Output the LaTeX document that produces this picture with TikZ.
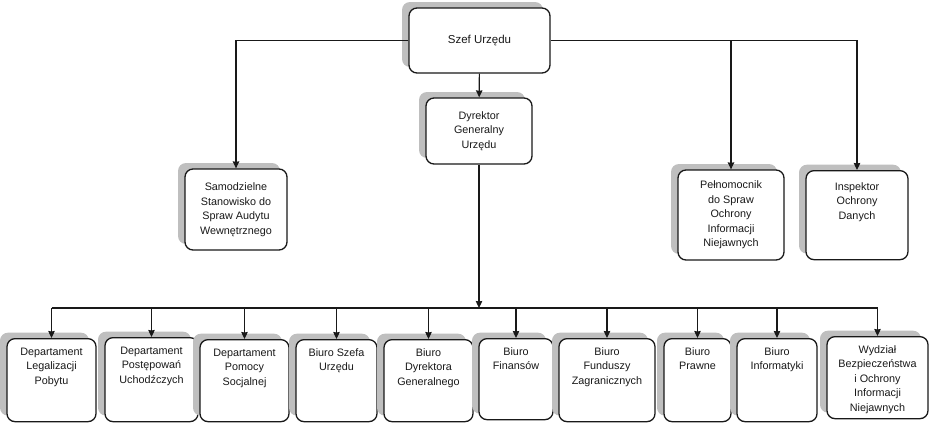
\documentclass[tikz,border=0pt]{standalone}
\usepackage{fontspec}
\setmainfont{Liberation Sans}
\usetikzlibrary{arrows, arrows.meta, positioning, shadows}

\newcommand{\boxtext}[3]{\parbox[t][#2][t]{#1}{\centering #3}}

\begin{document}
\begin{tikzpicture}[
    x=1pt, y=-1pt,
    unit/.style={rectangle, draw=black!90, line width=1.3pt, rounded corners=8pt, fill=white, text=black!90, general shadow={fill=gray!50, shadow xshift=-7pt, shadow yshift=6pt}, align=center, font=\fontsize{10.8}{14.5}\selectfont},
    topunit/.style={unit, inner xsep=0pt, inner ysep=9pt, anchor=north},
    arrow/.style={line width=1.1pt, draw=black!90, -{Stealth[length=7pt, width=6.5pt, inset=0.5pt]}}
]
\useasboundingbox (0,0) rectangle (930,423);

% Head of office
\node[unit, minimum width=141pt, minimum height=65pt, font=\fontsize{11.5}{14}\selectfont] (szef) at (479.5,40.5) {Szef Urzędu};

% Director general
\node[unit, minimum width=106pt, minimum height=66pt] (dyrektor) at (479,131) {Dyrektor\\Generalny\\Urzędu};

% Second level
\node[unit, minimum width=102pt, minimum height=81pt] (audyt) at (236,209.5) {Samodzielne\\Stanowisko do\\Spraw Audytu\\Wewnętrznego};
\node[unit, minimum width=106pt, minimum height=90pt] (pelnomocnik) at (731,215) {Pełnomocnik\\do Spraw\\Ochrony\\Informacji\\Niejawnych};
\node[topunit, inner ysep=12pt] (inspektor) at (857,170) {\boxtext{102pt}{65pt}{Inspektor\\Ochrony\\Danych}};

% Departments and offices
\node[topunit] (legalizacja) at (51.5,338) {\boxtext{89pt}{65pt}{Departament\\Legalizacji\\Pobytu}};
\node[topunit] (uchodzcy) at (151.5,337) {\boxtext{93pt}{66pt}{Departament\\Postępowań\\Uchodźczych}};
\node[topunit] (pomoc) at (244.5,339) {\boxtext{89pt}{64pt}{Departament\\Pomocy\\Socjalnej}};
\node[topunit] (biuro_szefa) at (336.5,339) {\boxtext{81pt}{64pt}{Biuro Szefa\\Urzędu}};
\node[topunit] (biuro_dg) at (428.5,339) {\boxtext{89pt}{64pt}{Biuro\\Dyrektora\\Generalnego}};
\node[topunit] (finanse) at (516,338) {\boxtext{74pt}{63pt}{Biuro\\Finansów}};
\node[topunit] (fundusze) at (607,338) {\boxtext{96pt}{65pt}{Biuro\\Funduszy\\Zagranicznych}};
\node[topunit] (prawne) at (697.5,338) {\boxtext{67pt}{65pt}{Biuro\\Prawne}};
\node[topunit] (informatyka) at (777,338) {\boxtext{80pt}{65pt}{Biuro\\Informatyki}};
\node[topunit] (bezpieczenstwo) at (877.5,336) {\boxtext{101pt}{64pt}{Wydział\\Bezpieczeństwa\\i Ochrony\\Informacji\\Niejawnych}};

% Arrows
\draw[arrow] (szef) -- (dyrektor);
\draw[arrow] (szef.west) -| (audyt.north);
\draw[arrow] (szef.east) -| (inspektor.north);
\draw[arrow] (szef.east -| pelnomocnik.north) -- (pelnomocnik.north);

% Bus to the bottom row
\coordinate (bus) at (0,308);
\draw[arrow] (dyrektor.south) -- (dyrektor.south |- bus);
\draw[line width=1.1pt, draw=black!90] (legalizacja.north |- bus) -- (bezpieczenstwo.north |- bus);
\foreach \n in {legalizacja, uchodzcy, pomoc, biuro_szefa, biuro_dg, finanse, fundusze, prawne, informatyka, bezpieczenstwo}
    \draw[arrow] (\n.north |- bus) -- (\n.north);

\end{tikzpicture}
\end{document}
